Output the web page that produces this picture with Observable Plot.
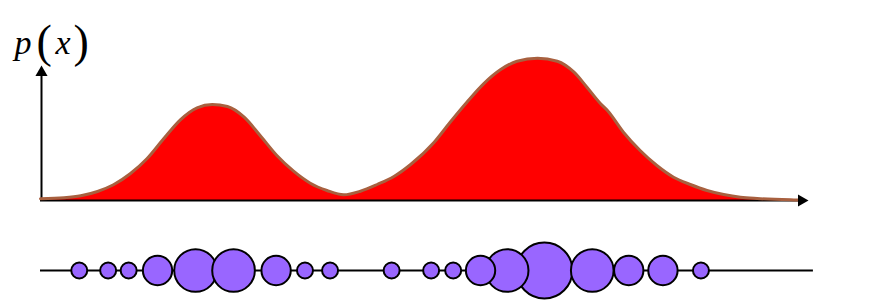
<!DOCTYPE html>
<html>
<head>
<meta charset="utf-8">
<script src="https://cdn.jsdelivr.net/npm/d3@7"></script>
<script src="https://cdn.jsdelivr.net/npm/@observablehq/plot@0.6"></script>
<style>body{margin:0;background:#fff}</style>
</head>
<body>
<div id="chart"></div>
<script>
// density curve p(x)
const curveX = [0, 0.31, 0.53, 0.75, 0.96, 1.18, 1.40, 1.62, 1.84, 2.06, 2.26, 2.46, 2.68, 2.89, 3.11, 3.33, 3.55, 3.77, 3.99, 4.21, 4.43, 4.65, 4.87, 5.18, 5.39, 5.61, 5.83, 6.05, 6.27, 6.54, 6.80, 7.02, 7.19, 7.37, 7.46, 7.67, 7.89, 8.11, 8.33, 8.55, 8.77, 8.99, 9.21, 9.43, 9.87, 10.0];
const curveP = [0.0017, 0.0027, 0.0047, 0.009, 0.0157, 0.0267, 0.0417, 0.0617, 0.0807, 0.0927, 0.096, 0.094, 0.0833, 0.065, 0.045, 0.0293, 0.0173, 0.010, 0.0057, 0.0093, 0.016, 0.024, 0.036, 0.0583, 0.0783, 0.0983, 0.1167, 0.1307, 0.1393, 0.1423, 0.1393, 0.1283, 0.1133, 0.0967, 0.090, 0.0683, 0.050, 0.035, 0.0233, 0.016, 0.010, 0.006, 0.0033, 0.002, 0.0007, 0.0005];
// sample points and their weights
const sampleX = [0.51, 0.89, 1.16, 1.54, 2.04, 2.54, 3.10, 3.48, 3.81, 4.62, 5.14, 5.43, 5.79, 6.14, 6.63, 7.26, 7.74, 8.19, 8.69];
const sampleW = [1, 1, 1, 2, 3, 3, 2, 1, 1, 1, 1, 1, 2, 3, 4, 3, 2, 2, 1];
const sampleRowY = -0.07;
const sampleLineX = [0, 10.17];
const axisEndX = 10.0;
const axisTopY = 0.128;
const labelParts = ["p", "(", "x", ")"];

const density = curveX.map((x, i) => ({x, p: curveP[i]}));
const samples = sampleX.map((x, i) => ({x, w: sampleW[i], y: sampleRowY}));

const font = "Liberation Serif, DejaVu Serif, serif";
const crv = "monotone-x";

const plot = Plot.plot({
  width: 883,
  height: 307,
  margin: 0,
  style: {fontFamily: font},
  x: {domain: [0, 10], range: [40, 800], axis: null},
  y: {domain: [0, 0.15], range: [200, 50], axis: null},
  r: {type: "linear", domain: [1, 4], range: [8, 28]},
  marks: [
    Plot.areaY(density, {x: "x", y: "p", fill: "#ff0000", curve: crv}),
    Plot.ruleY([0], {x1: 0, x2: axisEndX, stroke: "black", strokeWidth: 2}),
    Plot.ruleX([0], {y1: 0, y2: axisTopY, stroke: "black", strokeWidth: 2, dx: 1}),
    Plot.lineY(density, {x: "x", y: "p", stroke: "#a8603f", strokeWidth: 3, curve: crv}),
    Plot.dot([0], {x: axisEndX, y: 0, symbol: "triangle", rotate: 90, r: 4.5, fill: "black", dx: 1}),
    Plot.dot([0], {x: 0, y: axisTopY, symbol: "triangle", rotate: 0, r: 4.5, fill: "black", dx: 1}),
    // sample row
    Plot.ruleY([sampleRowY], {x1: sampleLineX[0], x2: sampleLineX[1], stroke: "black", strokeWidth: 2}),
    Plot.dot(samples, {x: "x", y: "y", r: "w", fill: "#9966ff", stroke: "black", strokeWidth: 2}),
    // label p(x)
    Plot.text([labelParts[0]], {frameAnchor: "top-left", text: d => d, dx: 14, dy: 53, lineAnchor: "bottom", textAnchor: "start", fontFamily: font, fontStyle: "italic", fontSize: 34, fill: "black"}),
    Plot.text([labelParts[1]], {frameAnchor: "top-left", text: d => d, dx: 36, dy: 56, lineAnchor: "bottom", textAnchor: "start", fontFamily: font, fontSize: 46, fill: "black"}),
    Plot.text([labelParts[2]], {frameAnchor: "top-left", text: d => d, dx: 55, dy: 53, lineAnchor: "bottom", textAnchor: "start", fontFamily: font, fontStyle: "italic", fontSize: 34, fill: "black"}),
    Plot.text([labelParts[3]], {frameAnchor: "top-left", text: d => d, dx: 73, dy: 56, lineAnchor: "bottom", textAnchor: "start", fontFamily: font, fontSize: 46, fill: "black"})
  ]
});
document.getElementById("chart").appendChild(plot);
</script>
</body>
</html>
